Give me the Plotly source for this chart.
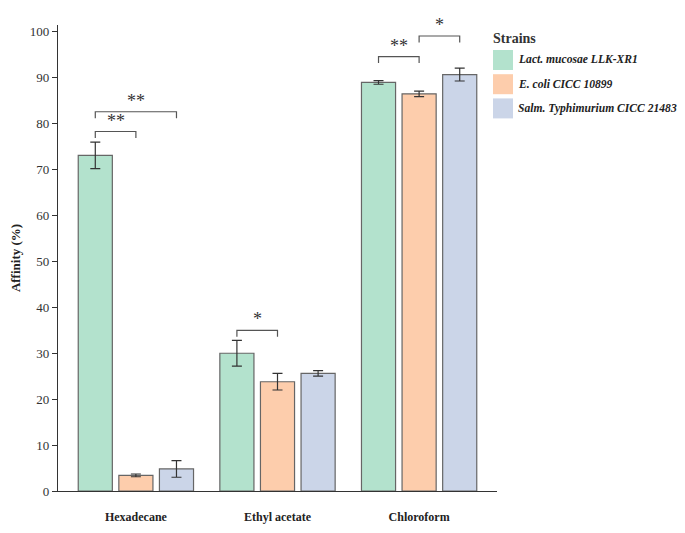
import plotly.graph_objects as go

categories = ["Hexadecane", "Ethyl acetate", "Chloroform"]
strains = ["Lact. mucosae LLK-XR1", "E. coli CICC 10899", "Salm. Typhimurium CICC 21483"]
colors = ["#b3e2cd", "#fdcdac", "#cbd5e8"]

lact_vals = [73.1, 30.0, 89.0]
lact_err = [2.9, 2.8, 0.4]
ecoli_vals = [3.4, 23.8, 86.5]
ecoli_err = [0.3, 1.8, 0.6]
salm_vals = [4.8, 25.6, 90.7]
salm_err = [1.8, 0.6, 1.4]

# significance comparisons: (category index, bar a, bar b, bracket height, label)
comparisons = [
    (0, 0, 1, 78.3, "**"),
    (0, 0, 2, 82.6, "**"),
    (1, 0, 1, 35.0, "*"),
    (2, 0, 1, 94.6, "**"),
    (2, 1, 2, 99.1, "*"),
]

series_vals = [lact_vals, ecoli_vals, salm_vals]
series_err = [lact_err, ecoli_err, salm_err]

FONT = "Liberation Serif, Times New Roman, serif"
bargap = 0.14
bargroupgap = 0.16
slot = (1 - bargap) / 3
xs = list(range(len(categories)))

OFF = 8  # page body margin
W, H = 677, 525
L, R, T, B = 50, 188, 17, 42
pw, ph = W - L - R, H - T - B


def px_x(v):
    return (v - OFF - L) / pw


def px_y(v):
    return 1 - (v - OFF - T) / ph


fig = go.Figure()
for name, vals, errs, col in zip(strains, series_vals, series_err, colors):
    fig.add_trace(go.Bar(
        x=xs, y=vals, name=name, showlegend=False,
        marker=dict(color=col, line=dict(color="#666666", width=1.2)),
        error_y=dict(type="data", array=errs, visible=True, color="#333333", thickness=1.2, width=5),
    ))

drop = 1.4
for ci, a, b, h, lab in comparisons:
    xa = ci + (a - 1) * slot
    xb = ci + (b - 1) * slot
    fig.add_trace(go.Scatter(
        x=[xa, xa, xb, xb], y=[h - drop, h, h, h - drop], mode="lines",
        line=dict(color="#555555", width=1.2), showlegend=False, hoverinfo="skip",
    ))
    fig.add_annotation(x=(xa + xb) / 2, y=h, text=lab, showarrow=False,
                       xref="x", yref="y", yanchor="bottom", yshift=-1,
                       font=dict(family=FONT, size=18, color="#333333"))

# manual legend
fig.add_annotation(x=px_x(491), y=px_y(38), xref="paper", yref="paper", text="<b>Strains</b>",
                   showarrow=False, xanchor="left", yanchor="middle",
                   font=dict(family=FONT, size=14, color="#333333"))
for k, (name, col) in enumerate(zip(strains, colors)):
    yc = 60 + k * 24.2
    fig.add_shape(type="rect", xref="paper", yref="paper",
                  x0=px_x(493), x1=px_x(513), y0=px_y(yc + 10), y1=px_y(yc - 10),
                  fillcolor=col, line=dict(width=0))
    fig.add_annotation(x=px_x(516), y=px_y(yc), xref="paper", yref="paper",
                       text="<b><i>%s</i></b>" % name, showarrow=False,
                       xanchor="left", yanchor="middle",
                       font=dict(family=FONT, size=11.6, color="#222222"))

fig.update_layout(
    width=W, height=H,
    margin=dict(l=L, r=R, t=T, b=B),
    barmode="group", bargap=bargap, bargroupgap=bargroupgap,
    plot_bgcolor="white", paper_bgcolor="white",
    font=dict(family=FONT, size=13, color="#333333"),
    xaxis=dict(range=[-0.55, 2.55], tickvals=xs,
               ticktext=["<b>%s</b>" % c for c in categories],
               showline=True, linecolor="#333333", linewidth=1.2,
               ticks="", showgrid=False, zeroline=False, automargin=False,
               tickfont=dict(family=FONT, size=12, color="#222222"),
               ticklabelstandoff=14),
    yaxis=dict(range=[0, 101.5], tickvals=list(range(0, 101, 10)),
               showline=True, linecolor="#333333", linewidth=1.2,
               ticks="outside", ticklen=5, tickcolor="#333333",
               showgrid=False, zeroline=False, automargin=False,
               title=dict(text="<b>Affinity (%)</b>", standoff=14,
                          font=dict(family=FONT, size=13, color="#222222")),
               tickfont=dict(family=FONT, size=13, color="#333333")),
)

fig.write_html("out.html")
